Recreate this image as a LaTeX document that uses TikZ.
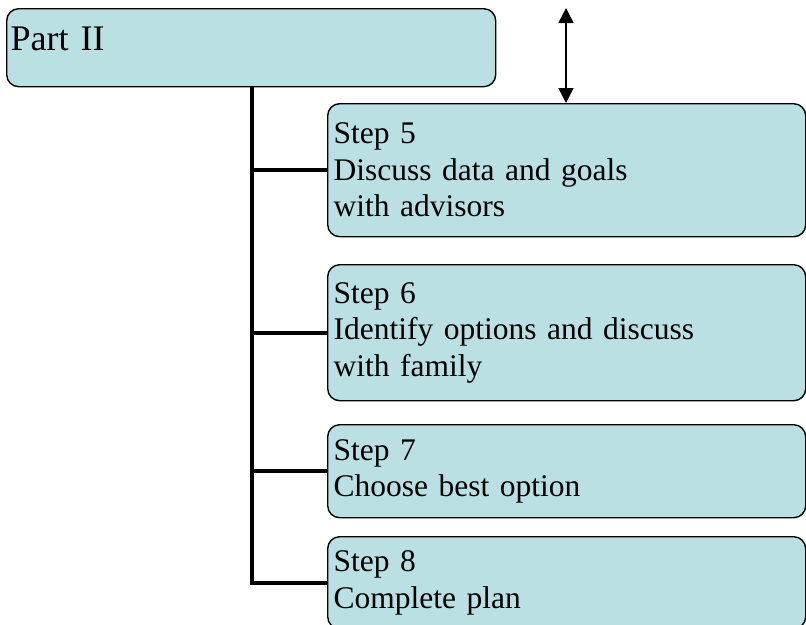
\documentclass[tikz,border=0pt]{standalone}
\usepackage{fontspec}
\setmainfont{Liberation Serif}
\usetikzlibrary{arrows.meta}
\definecolor{boxfill}{HTML}{BBE0E3}
\tikzset{
  box/.style={draw=black, line width=1.4pt, fill=boxfill, rounded corners=12pt,
    anchor=north west, align=left, inner ysep=0pt},
  stepbox/.style={box, inner xsep=6pt, text width=466pt,
    font=\fontsize{31.5}{36.5}\selectfont},
  trunk/.style={line width=4pt, line join=miter},
  dbl/.style={line width=1.5pt, {Triangle[length=15pt,width=15pt]}-{Triangle[length=15pt,width=15pt]}}
}
\begin{document}
\begin{tikzpicture}[x=1pt, y=-1pt]
\useasboundingbox (0,0) rectangle (806,624);
\node[box, inner xsep=4pt, text width=481pt, text height=42pt, text depth=36pt,
  font=\fontsize{36}{40}\selectfont] (part) at (6,8) {Part II};
\node[stepbox, minimum height=133pt] (s5) at (327,103) {Step 5\\Discuss data and goals\\with advisors};
\node[stepbox, minimum height=136pt] (s6) at (327,264) {Step 6\\Identify options and discuss\\with family};
\node[stepbox, minimum height=93pt] (s7) at (327,424) {Step 7\\Choose best option};
\node[stepbox, minimum height=92pt] (s8) at (327,536) {Step 8\\Complete plan};
\coordinate (tx) at (252,0);
\draw[trunk] (part.south -| tx) -- (tx |- s8.west) -- (s8.west);
\draw[trunk] (tx |- s5.west) -- (s5.west);
\draw[trunk] (tx |- s6.west) -- (s6.west);
\draw[trunk] (tx |- s7.west) -- (s7.west);
\coordinate (atop) at (566,8);
\draw[dbl] (atop) -- (s5.north -| atop);
\end{tikzpicture}
\end{document}
